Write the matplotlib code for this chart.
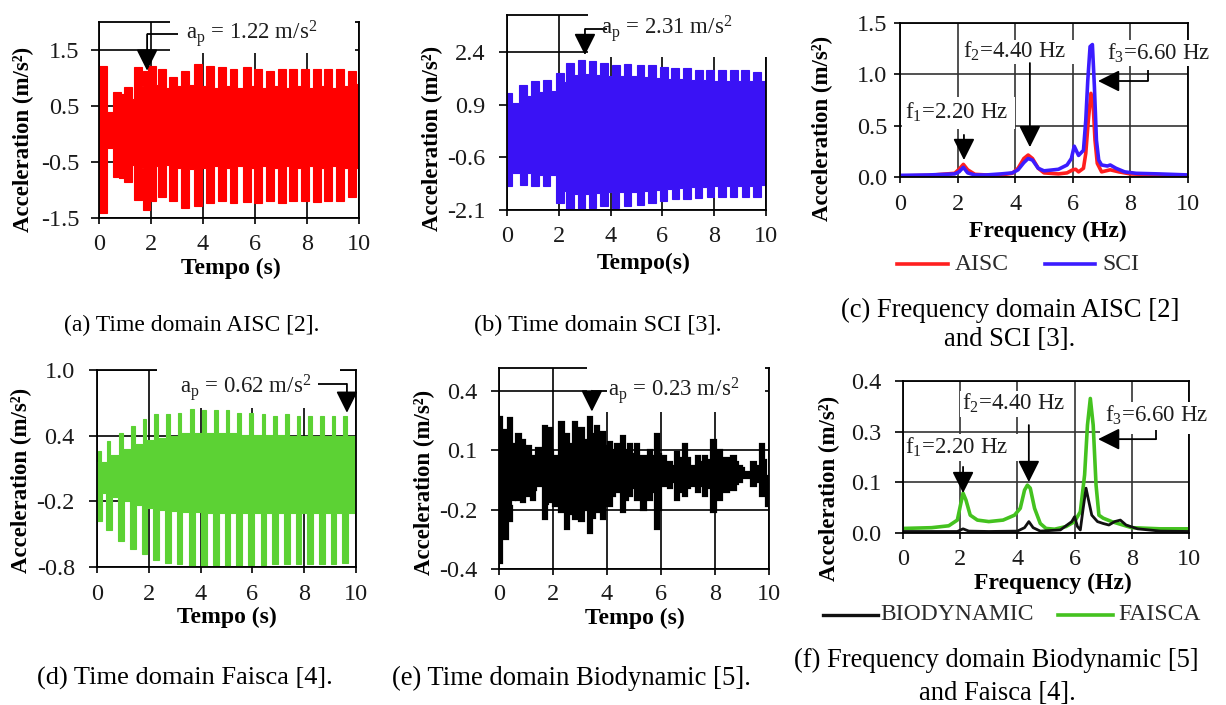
import matplotlib
matplotlib.use("Agg")
import matplotlib.pyplot as plt
from matplotlib.patches import Rectangle
from matplotlib.lines import Line2D

plt.rcParams['font.family'] = ['Liberation Serif', 'DejaVu Serif']
plt.rcParams['mathtext.fontset'] = 'custom'
plt.rcParams['mathtext.rm'] = 'Liberation Serif'
plt.rcParams['mathtext.it'] = 'Liberation Serif:italic'
plt.rcParams['mathtext.bf'] = 'Liberation Serif:bold'

# ---------------- data ----------------
# (a) AISC time domain: footstep teeth (time, upper peak/base, lower peak/base)
a_t = [0.15, 0.68, 0.90, 1.13, 1.51, 1.83, 2.03, 2.41, 2.86, 3.31, 3.82, 4.27,
       4.72, 5.17, 5.68, 6.13, 6.58, 7.03, 7.47, 7.92, 8.37, 8.82, 9.27, 9.72]
a_up_peak = [1.22, 0.75, 0.72, 0.84, 1.19, 1.13, 1.22, 1.16, 1.02, 1.13, 1.25, 1.22,
             1.19, 1.16, 1.19, 1.16, 1.13, 1.16, 1.16, 1.16, 1.16, 1.16, 1.16, 1.13]
a_up_base = [0.40, 0.55, 0.38, 0.62, 0.85, 0.90, 0.88, 0.82, 0.85, 0.88, 0.85, 0.82,
             0.85, 0.82, 0.85, 0.82, 0.85, 0.82, 0.85, 0.82, 0.85, 0.82, 0.85, 0.90]
a_lo_peak = [-1.41, -0.76, -0.78, -0.85, -1.17, -1.35, -1.20, -1.12, -1.20, -1.32, -1.29, -1.23,
             -1.20, -1.23, -1.22, -1.23, -1.20, -1.23, -1.20, -1.20, -1.21, -1.20, -1.20, -1.12]
a_lo_base = [-0.25, -0.30, -0.35, -0.55, -0.60, -0.60, -0.58, -0.55, -0.60, -0.62, -0.60, -0.58,
             -0.60, -0.58, -0.60, -0.58, -0.60, -0.58, -0.60, -0.58, -0.60, -0.58, -0.60, -0.60]

# (b) SCI time domain
b_t = [0.05, 0.63, 1.08, 1.53, 2.05, 2.43, 2.88, 3.30, 3.75, 4.20, 4.65, 5.15,
       5.60, 6.05, 6.50, 6.95, 7.40, 7.85, 8.30, 8.75, 9.20, 9.65]
b_up_peak = [1.23, 1.46, 1.56, 1.60, 1.79, 2.08, 2.17, 2.13, 2.08, 2.03, 2.06, 2.03,
             2.03, 1.98, 1.94, 1.94, 1.89, 1.89, 1.89, 1.89, 1.89, 1.84]
b_up_base = [0.95, 1.15, 1.25, 1.30, 1.55, 1.75, 1.78, 1.75, 1.72, 1.70, 1.70, 1.68,
             1.66, 1.64, 1.62, 1.60, 1.60, 1.58, 1.58, 1.58, 1.58, 1.58]
b_lo_peak = [-1.43, -1.38, -1.43, -1.43, -1.90, -2.09, -2.09, -2.04, -2.00, -2.04, -2.00, -1.95,
             -1.90, -1.85, -1.80, -1.78, -1.76, -1.74, -1.74, -1.74, -1.72, -1.72]
b_lo_base = [-1.05, -1.05, -1.10, -1.10, -1.55, -1.65, -1.65, -1.62, -1.60, -1.60, -1.58, -1.55,
             -1.52, -1.50, -1.48, -1.45, -1.45, -1.42, -1.42, -1.42, -1.42, -1.40]

# (d) Faisca time domain
d_t = [0.09, 0.45, 0.93, 1.39, 1.83, 2.28, 2.73, 3.18, 3.66, 4.13, 4.59, 5.04,
       5.49, 5.94, 6.43, 6.88, 7.33, 7.78, 8.23, 8.68, 9.13, 9.58]
d_up_peak = [0.26, 0.35, 0.42, 0.49, 0.55, 0.60, 0.60, 0.61, 0.64, 0.63, 0.63, 0.63,
             0.61, 0.61, 0.60, 0.58, 0.60, 0.58, 0.58, 0.58, 0.58, 0.58]
d_up_base = [0.16, 0.22, 0.28, 0.32, 0.36, 0.38, 0.40, 0.42, 0.42, 0.42, 0.42, 0.42,
             0.41, 0.41, 0.41, 0.41, 0.40, 0.40, 0.40, 0.40, 0.40, 0.40]
d_lo_peak = [-0.38, -0.46, -0.56, -0.64, -0.68, -0.74, -0.76, -0.77, -0.79, -0.79, -0.78, -0.79,
             -0.79, -0.78, -0.78, -0.77, -0.77, -0.77, -0.77, -0.77, -0.77, -0.76]
d_lo_base = [-0.12, -0.16, -0.20, -0.23, -0.26, -0.28, -0.29, -0.30, -0.30, -0.31, -0.31, -0.31,
             -0.31, -0.31, -0.31, -0.31, -0.31, -0.31, -0.31, -0.31, -0.31, -0.31]

# (e) Biodynamic time domain
e_t = [0.04, 0.41, 0.53, 0.72, 0.90, 1.09, 1.27, 1.46, 1.70, 1.89, 2.07, 2.32, 2.51, 2.81,
       3.06, 3.37, 3.62, 3.86, 4.11, 4.36, 4.60, 4.85, 5.10, 5.35, 5.59, 5.84, 6.09, 6.33,
       6.58, 6.89, 7.14, 7.38, 7.63, 7.94, 8.19, 8.43, 8.68, 8.93, 9.17, 9.42, 9.73, 9.98]
e_up_peak = [0.27, 0.26, 0.13, 0.18, 0.15, 0.12, 0.07, 0.11, 0.22, 0.21, 0.07, 0.24, 0.18, 0.24,
             0.21, 0.27, 0.22, 0.19, 0.14, 0.13, 0.17, 0.13, 0.13, 0.07, 0.10, 0.18, 0.07, 0.04,
             0.09, 0.13, 0.02, 0.07, 0.07, 0.15, 0.10, 0.06, 0.07, 0.02, -0.01, 0.04, 0.13, -0.03]
e_up_base = [0.20, 0.12, 0.09, 0.12, 0.10, 0.08, 0.05, 0.09, 0.14, 0.10, 0.06, 0.15, 0.13, 0.16,
             0.15, 0.18, 0.15, 0.12, 0.10, 0.09, 0.10, 0.08, 0.07, 0.05, 0.07, 0.08, 0.04, 0.02,
             0.06, 0.06, 0.01, 0.04, 0.05, 0.08, 0.06, 0.04, 0.04, 0.01, -0.01, 0.02, 0.05, -0.04]
e_lo_peak = [-0.47, -0.26, -0.15, -0.15, -0.16, -0.13, -0.15, -0.08, -0.25, -0.16, -0.18, -0.21, -0.30, -0.25,
             -0.26, -0.32, -0.21, -0.25, -0.18, -0.11, -0.21, -0.13, -0.15, -0.20, -0.15, -0.30, -0.08, -0.09,
             -0.15, -0.13, -0.08, -0.11, -0.13, -0.21, -0.15, -0.11, -0.10, -0.06, -0.04, -0.08, -0.13, -0.18]
e_lo_base = [-0.35, -0.18, -0.10, -0.10, -0.11, -0.09, -0.10, -0.05, -0.17, -0.12, -0.13, -0.16, -0.22, -0.19,
             -0.20, -0.24, -0.16, -0.18, -0.13, -0.08, -0.15, -0.09, -0.11, -0.14, -0.11, -0.20, -0.05, -0.06,
             -0.11, -0.09, -0.05, -0.08, -0.09, -0.15, -0.10, -0.08, -0.07, -0.04, -0.03, -0.06, -0.09, -0.13]

# (c) frequency domain AISC / SCI
aisc_f = [0, 1.0, 1.9, 2.05, 2.2, 2.35, 2.6, 3.0, 3.5, 3.9, 4.1, 4.3, 4.45, 4.6, 4.8, 5.0, 5.5,
          5.8, 6.0, 6.1, 6.2, 6.37, 6.45, 6.54, 6.63, 6.71, 6.77, 6.85, 7.0, 7.3, 7.6, 8.0, 9.0, 10]
aisc_a = [0.01, 0.016, 0.036, 0.075, 0.123, 0.07, 0.026, 0.02, 0.02, 0.036, 0.085, 0.18, 0.214, 0.18,
          0.085, 0.04, 0.03, 0.04, 0.07, 0.075, 0.05, 0.085, 0.23, 0.555, 0.815, 0.685, 0.36, 0.133,
          0.05, 0.07, 0.05, 0.03, 0.02, 0.013]
sci_f = [0, 1.0, 1.9, 2.05, 2.2, 2.35, 2.6, 3.0, 3.5, 3.9, 4.1, 4.3, 4.45, 4.6, 4.8, 5.0, 5.5, 5.8,
         5.95, 6.05, 6.2, 6.37, 6.45, 6.52, 6.6, 6.68, 6.75, 6.82, 6.9, 7.0, 7.2, 7.3, 7.5, 7.8, 8.2, 9.0, 10]
sci_a = [0.016, 0.02, 0.03, 0.05, 0.094, 0.04, 0.02, 0.02, 0.03, 0.04, 0.07, 0.14, 0.18, 0.165, 0.085,
         0.06, 0.075, 0.117, 0.18, 0.30, 0.21, 0.26, 0.55, 0.94, 1.27, 1.29, 0.88, 0.36, 0.165, 0.117,
         0.107, 0.117, 0.085, 0.05, 0.036, 0.03, 0.02]

# (f) frequency domain Biodynamic / Faisca
faisca_f = [0, 1.0, 1.6, 1.9, 2.0, 2.1, 2.2, 2.35, 2.6, 3.0, 3.5, 3.9, 4.1, 4.25, 4.35, 4.45, 4.6, 4.8,
            5.0, 5.3, 5.7, 6.0, 6.2, 6.35, 6.45, 6.55, 6.65, 6.75, 6.85, 7.0, 7.3, 7.6, 8.0, 9.0, 10]
faisca_a = [0.012, 0.014, 0.019, 0.034, 0.07, 0.105, 0.087, 0.047, 0.034, 0.03, 0.034, 0.047, 0.065,
            0.113, 0.126, 0.118, 0.065, 0.025, 0.012, 0.01, 0.017, 0.03, 0.056, 0.153, 0.284, 0.354,
            0.284, 0.126, 0.047, 0.039, 0.03, 0.023, 0.014, 0.011, 0.011]
bio_f = [0, 1.9, 2.1, 2.3, 3.0, 4.0, 4.25, 4.4, 4.55, 4.8, 5.5, 5.9, 6.0, 6.1, 6.2, 6.3, 6.4, 6.5,
         6.6, 6.8, 7.0, 7.2, 7.4, 7.6, 7.8, 8.2, 9.0, 10]
bio_a = [0.004, 0.004, 0.011, 0.005, 0.004, 0.005, 0.014, 0.03, 0.014, 0.005, 0.008, 0.03, 0.043,
         0.017, 0.008, 0.065, 0.118, 0.082, 0.047, 0.03, 0.025, 0.021, 0.03, 0.034, 0.021, 0.011,
         0.005, 0.004]

xticks = [0, 2, 4, 6, 8, 10]
a_yticks, a_ylabels = [-1.5, -0.5, 0.5, 1.5], ["-1.5", "-0.5", "0.5", "1.5"]
b_yticks, b_ylabels = [-2.1, -0.6, 0.9, 2.4], ["-2.1", "-0.6", "0.9", "2.4"]
c_yticks, c_ylabels = [0.0, 0.5, 1.0, 1.5], ["0.0", "0.5", "1.0", "1.5"]
d_yticks, d_ylabels = [-0.8, -0.2, 0.4, 1.0], ["-0.8", "-0.2", "0.4", "1.0"]
e_yticks, e_ylabels = [-0.5, -0.2, 0.1, 0.4], ["-0.4", "-0.2", "0.1", "0.4"]
f_yticks, f_ylabels = [0.0, 0.4 / 3, 0.8 / 3, 0.4], ["0.0", "0.1", "0.3", "0.4"]

# ---------------- figure ----------------
W, H = 1226, 705
fig = plt.figure(figsize=(W / 100, H / 100), dpi=100)


def add_ax(l, t, r, b):
    ax = fig.add_axes([l / W, 1 - b / H, (r - l) / W, (b - t) / H])
    ax._px = (l, t, r, b)
    return ax


def comb(times, peaks, bases, width, t_end=10.0):
    xs, ys = [0.0], [bases[0]]
    prev = bases[0]
    for c, p, b in zip(times, peaks, bases):
        a0 = max(c - width / 2, 0.0)
        a1 = min(c + width / 2, t_end)
        xs += [a0, a0, a1, a1]
        ys += [prev, p, p, b]
        prev = b
    xs.append(t_end)
    ys.append(prev)
    return xs, ys


def setup(ax, ylim, yticks, ylabels, ypad, xpad, ylen=6, gcol='black'):
    ax.set_xlim(0, 10)
    ax.set_ylim(*ylim)
    ax.set_xticks(xticks)
    ax.set_yticks(yticks)
    ax.set_yticklabels(ylabels)
    ax.grid(True, color=gcol, lw=1.2)
    ax.set_axisbelow(True)
    ax.tick_params(axis='y', direction='out', length=ylen, width=1.2, pad=ypad,
                   labelsize=17.5, labelcolor='#1a1a1a')
    ax.tick_params(axis='x', direction='out', length=4.5, width=1.2, pad=xpad,
                   labelsize=17.5, labelcolor='#1a1a1a')
    for s in ax.spines.values():
        s.set_linewidth(1.3)
        s.set_color('black')


def labels(ax, xl, xpos, ypos):
    l, t, r, b = ax._px
    ax.set_xlabel(xl, fontsize=17, fontweight='bold')
    ax.xaxis.set_label_coords((xpos[0] - l) / (r - l), (b - xpos[1]) / (b - t))
    ax.xaxis.label.set_va('center')
    ax.set_ylabel('Acceleration (m/s²)', fontsize=16.5, fontweight='bold')
    ax.yaxis.set_label_coords((ypos[0] - l) / (r - l), (b - ypos[1]) / (b - t))
    ax.yaxis.label.set_va('center')


def cover(ax, l, t, r, b):
    ax.add_patch(Rectangle((l / W, 1 - b / H), (r - l) / W, (b - t) / H,
                           transform=fig.transFigure, facecolor='white',
                           edgecolor='none', zorder=3, clip_on=False))


def arrow(ax, pts):
    if len(pts) > 2:
        ax.plot([p[0] for p in pts[:-1]], [p[1] for p in pts[:-1]], color='black',
                lw=1.3, zorder=5, clip_on=False, solid_capstyle='butt')
    ax.annotate('', xy=pts[-1], xytext=pts[-2], annotation_clip=False, zorder=5,
                arrowprops=dict(arrowstyle='-|>,head_length=1.2,head_width=0.6',
                                mutation_scale=11, color='black', lw=1.3,
                                shrinkA=0, shrinkB=0))


def note(ax, x, y, s, fs=16.5):
    ax.text(x, y, s, ha='left', va='center', fontsize=fs, color='#1e1e1e',
            zorder=6, clip_on=False)


def time_fill(ax, t, up_p, up_b, lo_p, lo_b, wu, wl, color, elw=0.8):
    ux, uy = comb(t, up_p, up_b, wu)
    lx, ly = comb(t, lo_p, lo_b, wl)
    ax.fill(ux + lx[::-1], uy + ly[::-1], facecolor=color, edgecolor=color,
            lw=elw, zorder=2)


def caption(x, y, s, fs):
    fig.text(x / W, 1 - y / H, s, ha='center', va='center', fontsize=fs, color='black')


# ---- (a) ----
ax = add_ax(99, 22, 359, 218)
time_fill(ax, a_t, a_up_peak, a_up_base, a_lo_peak, a_lo_base, 0.30, 0.30, '#ff0000')
setup(ax, (-1.5, 2.0), a_yticks, a_ylabels, ypad=8, xpad=7)
labels(ax, 'Tempo (s)', (231, 268), (23, 139))
cover(ax, 170, 8, 355, 53)
note(ax, 3.35, 1.80, r'a$_{\mathrm{p}}$ = 1.22 m/s$^{\mathrm{2}}$')
arrow(ax, [(3.04, 1.78), (1.85, 1.78), (1.85, 1.13)])
caption(192, 325, '(a) Time domain AISC [2].', 17)

# ---- (b) ----
ax = add_ax(507, 15, 766, 210)
time_fill(ax, b_t, b_up_peak, b_up_base, b_lo_peak, b_lo_base, 0.30, 0.28, '#3a12f5')
setup(ax, (-2.1, 3.45), b_yticks, b_ylabels, ypad=9.5, xpad=7)
labels(ax, 'Tempo(s)', (644, 263), (432, 138))
cover(ax, 588, 5, 775, 57)
note(ax, 3.62, 3.06, r'a$_{\mathrm{p}}$ = 2.31 m/s$^{\mathrm{2}}$')
arrow(ax, [(3.86, 3.05), (3.01, 3.05), (3.01, 2.31)])
caption(598, 325, '(b) Time domain SCI [3].', 17.5)

# ---- (c) ----
ax = add_ax(900, 23, 1188, 177)
ax.plot(aisc_f, aisc_a, color='#ff1f1f', lw=2.6, zorder=2, solid_joinstyle='round')
ax.plot(sci_f, sci_a, color='#3b1cff', lw=2.6, zorder=2.1, solid_joinstyle='round')
setup(ax, (0, 1.5), c_yticks, c_ylabels, ypad=5, xpad=8, ylen=4, gcol='#333333')
labels(ax, 'Frequency (Hz)', (1048, 231), (822, 128))
cover(ax, 902, 97, 1015, 129)
cover(ax, 960, 40, 1075, 64)
cover(ax, 1100, 40, 1222, 66)
note(ax, 0.17, 0.63, r'f$_{\mathrm{1}}$=2.20 Hz')
note(ax, 2.19, 1.22, r'f$_{\mathrm{2}}$=4.40 Hz')
note(ax, 7.19, 1.20, r'f$_{\mathrm{3}}$=6.60 Hz')
arrow(ax, [(2.22, 0.41), (2.22, 0.165)])
arrow(ax, [(4.51, 1.11), (4.51, 0.29)])
arrow(ax, [(8.61, 1.04), (8.61, 0.935), (6.875, 0.935)])
fig.add_artist(Line2D([897 / W, 948 / W], [1 - 264 / H] * 2, color='#ff1f1f', lw=2.6))
fig.text(955 / W, 1 - 264 / H, 'AISC', ha='left', va='center', fontsize=17, color='#2a2a2a')
fig.add_artist(Line2D([1045 / W, 1095 / W], [1 - 264 / H] * 2, color='#3b1cff', lw=2.6))
fig.text(1102 / W, 1 - 264 / H, 'SCI', ha='left', va='center', fontsize=17, color='#2a2a2a')
caption(1010, 310, '(c) Frequency domain AISC [2]', 19.2)
caption(1010, 340, 'and SCI [3].', 19.2)

# ---- (d) ----
ax = add_ax(97, 370, 356, 567)
time_fill(ax, d_t, d_up_peak, d_up_base, d_lo_peak, d_lo_base, 0.14, 0.22, '#5cd234')
setup(ax, (-0.8, 1.0), d_yticks, d_ylabels, ypad=10, xpad=8)
labels(ax, 'Tempo (s)', (227, 617), (21, 480))
cover(ax, 157, 362, 340, 408)
note(ax, 3.2, 0.84, r'a$_{\mathrm{p}}$ = 0.62 m/s$^{\mathrm{2}}$')
arrow(ax, [(8.53, 0.873), (9.65, 0.873), (9.65, 0.609)])
caption(185, 678, '(d) Time domain Faisca [4].', 19)

# ---- (e) ----
ax = add_ax(499, 368, 769, 569)
time_fill(ax, e_t, e_up_peak, e_up_base, e_lo_peak, e_lo_base, 0.16, 0.16, '#000000', elw=1.6)
setup(ax, (-0.5, 0.515), e_yticks, e_ylabels, ypad=9.5, xpad=6)
labels(ax, 'Tempo (s)', (635, 618), (424, 482))
cover(ax, 587, 360, 765, 412)
note(ax, 4.04, 0.40, r'a$_{\mathrm{p}}$ = 0.23 m/s$^{\mathrm{2}}$')
arrow(ax, [(4.0, 0.40), (3.44, 0.40), (3.44, 0.295)])
caption(571, 678, '(e) Time domain Biodynamic [5].', 19.2)

# ---- (f) ----
ax = add_ax(903, 381, 1189, 533)
ax.plot(faisca_f, faisca_a, color='#44c21f', lw=2.6, zorder=2, solid_joinstyle='round')
ax.plot(bio_f, bio_a, color='#111111', lw=2.0, zorder=2.1, solid_joinstyle='round')
setup(ax, (0, 0.4), f_yticks, f_ylabels, ypad=9.5, xpad=7, gcol='#333333')
labels(ax, 'Frequency (Hz)', (1053, 583), (829, 488))
cover(ax, 905, 434, 1018, 461)
cover(ax, 960, 391, 1073, 417)
cover(ax, 1100, 402, 1215, 434)
note(ax, 0.07, 0.226, r'f$_{\mathrm{1}}$=2.20 Hz')
note(ax, 2.06, 0.342, r'f$_{\mathrm{2}}$=4.40 Hz')
note(ax, 7.06, 0.31, r'f$_{\mathrm{3}}$=6.60 Hz')
arrow(ax, [(2.1, 0.174), (2.1, 0.105)])
arrow(ax, [(4.4, 0.284), (4.4, 0.134)])
arrow(ax, [(8.85, 0.271), (8.85, 0.247), (6.82, 0.247)])
fig.add_artist(Line2D([823 / W, 878 / W], [1 - 615 / H] * 2, color='#111111', lw=2.4))
fig.text(880 / W, 1 - 615 / H, 'BIODYNAMIC', ha='left', va='center', fontsize=17, color='#2a2a2a')
fig.add_artist(Line2D([1058 / W, 1113 / W], [1 - 615 / H] * 2, color='#44c21f', lw=2.6))
fig.text(1118 / W, 1 - 615 / H, 'FAISCA', ha='left', va='center', fontsize=17, color='#2a2a2a')
caption(996, 660, '(f) Frequency domain Biodynamic [5]', 19.1)
caption(997, 693, 'and Faisca [4].', 19.1)

fig.savefig('out.png', dpi=100)
